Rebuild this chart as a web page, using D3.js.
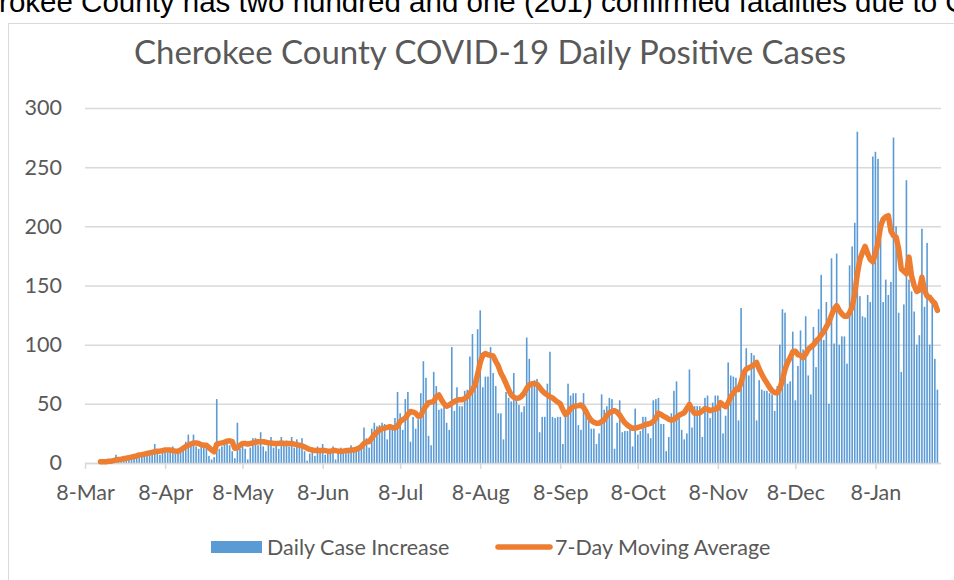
<!DOCTYPE html>
<html><head><meta charset="utf-8">
<script src="https://cdn.jsdelivr.net/npm/d3@7"></script>
<style>
html,body{margin:0;padding:0;background:#fff;overflow:hidden;}
svg{display:block;}
</style></head>
<body><svg id="chart" width="954" height="580"></svg>
<script>
const headerText = "Cherokee County has two hundred and one (201) confirmed fatalities due to COVID-19.";
const chartTitle = "Cherokee County COVID-19 Daily Positive Cases";
const seriesNames = ["Daily Case Increase", "7-Day Moving Average"];
const firstDate = "2020-03-14";

const dailyCases = [
3,0,1,2,1,2,7,2,3,6,4,3,5,4,6,8,7,6,
8,10,9,16,11,7,10,12,9,11,14,8,10,
11,14,18,24,16,24,14,12,17,13,14,6,3,5,
54,12,14,16,18,15,10,4,34,12,14,
12,3,13,21,21,15,26,14,10,16,22,13,15,12,22,16,19,14,22,13,20,14,21,10,2,8,
10,6,14,9,16,7,9,11,14,3,10,13,8,11,9,15,10,14,15,
14,30,21,13,29,34,
31,32,34,33,20,32,29,38,60,42,28,54,60,18,39,29,37,59,86,72,23,15,77,65,45,46,48,34,28,98,44,64,48,48,61,62,90,109,68,113,129,64,73,73,98,76,65,
42,42,20,60,55,52,76,53,49,43,48,106,88,67,70,71,26,39,39,67,94,39,38,39,39,16,39,
67,57,59,59,32,28,59,46,36,29,29,16,25,58,45,48,55,54,12,34,53,26,27,27,29,14,46,24,27,39,39,25,21,
53,54,55,33,33,10,22,42,61,69,38,28,20,25,79,30,48,48,48,22,55,57,38,51,57,57,51,25,40,85,74,73,72,36,131,76,97,74,93,91,36,70,62,61,61,59,58,44,65,100,130,127,
67,69,111,53,82,112,96,124,74,58,115,81,130,159,104,136,50,173,101,177,100,107,107,84,167,183,203,280,
141,124,123,142,136,259,263,257,189,136,155,142,153,275,200,127,77,134,239,155,145,128,100,108,198,132,186,100,137,88,62
];

const movingAverage = [
1,1,1,1.5,1.5,2,2.5,3,3.2,3.6,4,4.5,5,5.5,6,6.8,7,7.5,
8,8.5,9,9.5,10,10,10.5,11,11,11,10.5,10,10,
11,12.5,14,15,16,17,17,16.5,15.5,15,15,13,11,9.5,
16,16.6,17,17.5,18.5,18.8,18,12.5,13,15,16.5,
16.5,16,16.5,17,17.5,18,18,18,17.5,17,17,16.5,16.5,16.5,17,16.5,16.5,16.5,16.5,16,15.5,
15,14.5,13.5,12.5,11.5,11,10.5,10.5,10.5,10.5,10.5,10,10,10.5,10.5,10,10,10,10.5,10.5,11,11,11.5,12.5,
14,16.5,18,18,21,24,26,28,29,29.5,
30,30.7,30,29.5,31,35,36.5,38,41,43.5,43,42,39.5,40,45,48,51,51.5,52,56,
57.5,53.5,50,48,49,50.5,52,53,53.5,53.5,54.5,56,59,62,66,75,85,91,92.5,91.5,91,90.5,86,82,76,72,67,62,
57.5,55.5,54.7,55,56.5,59,63,66,67,67,66.5,64,61,59,57.5,56,55,53.2,51.5,50,45,41,
43,46,47.5,48.2,48.5,49,47,43.4,39,36,34.5,33.5,33.5,35,36.4,40,42.5,43.4,44.2,43,40.5,37,34,32,30.5,29.3,29.5,30,30.7,31.5,32.5,33,
33.5,35,38,42,41,39.5,38.5,37,36.2,37,38.5,40.4,41.5,42.5,46,49.6,45,42,42,42.5,44,46,45.5,44.2,45,45.5,46.2,51,49,47.6,51,56,59,
62.3,62,68,76,79.5,80.5,81.5,83,85,79.5,75,71,67.5,64,61,59.5,59.2,63,70,79,85,89,94,94.5,91.5,
91,89,92,96,98,99.7,103,105,108,111,115,119,125,130,133,129,126,124,124,127,132,
143,160,172,178,183,177,172,170,177,186,200,206,208,209,196,192,191,181,164,162,160,174,158,150,145,146,157,146,141,140,137,135,129
];

const yTicks = [0, 50, 100, 150, 200, 250, 300];
const xTickDates = ["2020-03-08","2020-04-08","2020-05-08","2020-06-08","2020-07-08","2020-08-08","2020-09-08","2020-10-08","2020-11-08","2020-12-08","2021-01-08"];
const xTickLabels = ["8-Mar","8-Apr","8-May","8-Jun","8-Jul","8-Aug","8-Sep","8-Oct","8-Nov","8-Dec","8-Jan"];
const axisStart = "2020-03-08";
const axisEnd = "2021-02-02";

const parse = d3.timeParse("%Y-%m-%d");
const start = parse(firstDate);
const bars = dailyCases.map((v, i) => ({date: d3.timeDay.offset(start, i), value: v}));
const ma = movingAverage.map((v, i) => ({date: d3.timeDay.offset(start, i), value: v}));

const svg = d3.select("#chart");
const textColor = "#595959";
const gridColor = "#d9d9d9";
const font = "Lato, 'Open Sans', sans-serif";

// page header text (cut off at the top, as in the screenshot)
svg.append("text")
  .attr("x", -55).attr("y", 12)
  .attr("font-family", "'Liberation Sans', Arial, sans-serif")
  .attr("font-size", 29.5)
  .attr("fill", "#000")
  .text(headerText);

// chart frame
svg.append("rect")
  .attr("x", 8.5).attr("y", 23.5)
  .attr("width", 960).attr("height", 570)
  .attr("fill", "none").attr("stroke", gridColor).attr("stroke-width", 1);

const x = d3.scaleTime().domain([parse(axisStart), parse(axisEnd)]).range([85, 940]);
const y = d3.scaleLinear().domain([0, 300]).range([463, 108]);

// title
svg.append("text")
  .attr("x", 490).attr("y", 64)
  .attr("text-anchor", "middle")
  .attr("font-family", font).attr("font-size", 33)
  .attr("fill", textColor)
  .text(chartTitle);

// y grid + labels
const yAxis = svg.append("g").attr("transform", "translate(85,0)")
  .call(d3.axisLeft(y).tickValues(yTicks).tickSize(-856).tickPadding(23));
yAxis.select(".domain").remove();
yAxis.selectAll(".tick line").attr("stroke", gridColor).attr("stroke-width", 1.5);
yAxis.selectAll(".tick text").attr("fill", textColor).attr("font-family", font).attr("font-size", 21.5);

// bars
const barW = 1.6;
svg.append("g").selectAll("rect").data(bars).join("rect")
  .attr("x", d => x(d.date) - barW / 2)
  .attr("y", d => y(d.value))
  .attr("width", barW)
  .attr("height", d => y(0) - y(d.value))
  .attr("fill", "#5b9bd5");

// x axis
const xAxis = svg.append("g").attr("transform", "translate(0,463)")
  .call(d3.axisBottom(x).tickValues(xTickDates.map(parse))
    .tickFormat((d, i) => xTickLabels[i]).tickSize(6).tickPadding(16).tickSizeOuter(0));
xAxis.select(".domain").attr("stroke", gridColor).attr("stroke-width", 1.5);
xAxis.selectAll(".tick line").attr("stroke", gridColor).attr("stroke-width", 1.5);
xAxis.selectAll(".tick text").attr("fill", textColor).attr("font-family", font).attr("font-size", 21.5);

// moving average line
svg.append("path").datum(ma)
  .attr("fill", "none")
  .attr("stroke", "#ed7d31")
  .attr("stroke-width", 5.5)
  .attr("stroke-linejoin", "round")
  .attr("stroke-linecap", "round")
  .attr("d", d3.line().x(d => x(d.date)).y(d => y(d.value)));

// legend
const lg = svg.append("g");
lg.append("rect").attr("x", 211).attr("y", 541).attr("width", 51).attr("height", 12).attr("fill", "#5b9bd5");
lg.append("text").attr("x", 267).attr("y", 555).attr("font-family", font).attr("font-size", 21.5)
  .attr("fill", textColor).text(seriesNames[0]);
lg.append("line").attr("x1", 498).attr("x2", 550).attr("y1", 547).attr("y2", 547)
  .attr("stroke", "#ed7d31").attr("stroke-width", 5.5).attr("stroke-linecap", "round");
lg.append("text").attr("x", 555).attr("y", 555).attr("font-family", font).attr("font-size", 21.5)
  .attr("fill", textColor).text(seriesNames[1]);
</script>
</body></html>
